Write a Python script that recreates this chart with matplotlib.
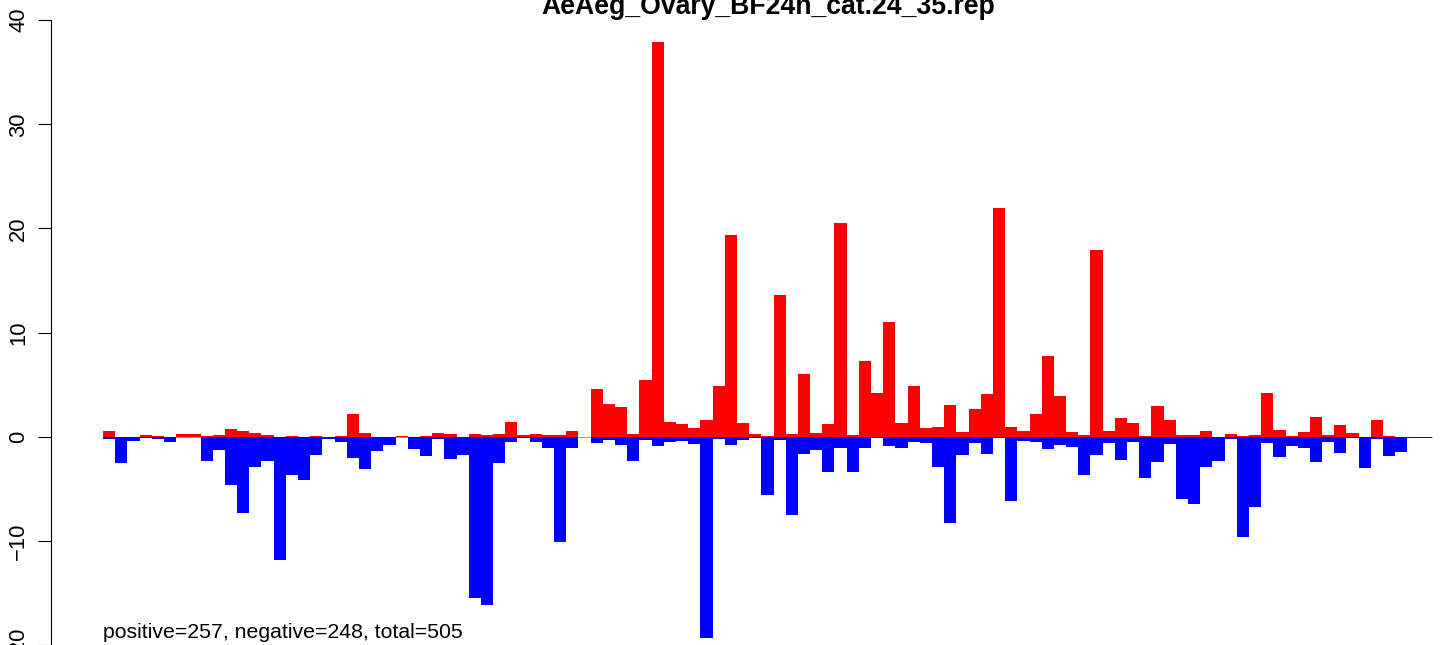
import numpy as np
import matplotlib.pyplot as plt

plt.rcParams['font.family'] = ['Liberation Sans', 'DejaVu Sans']

title = "AeAeg_Ovary_BF24h_cat.24_35.rep"
note = "positive=257, negative=248, total=505"

# bar heights, one value per bin (left to right)
pos = [0.5, 0.0, 0.0, 0.13, 0.05, 0.0, 0.22, 0.22, 0.03, 0.13,
       0.7, 0.5, 0.4, 0.13, 0.0, 0.03, 0.0, 0.03, 0.0, 0.03,
       2.15, 0.4, 0.0, 0.0, 0.05, 0.0, 0.03, 0.4, 0.22, 0.0,
       0.22, 0.13, 0.22, 1.37, 0.13, 0.22, 0.13, 0.13, 0.5, 0.0,
       4.6, 3.1, 2.85, 0.25, 5.43, 37.9, 1.4, 1.21, 0.83, 1.6,
       4.85, 19.4, 1.31, 0.26, 0.05, 13.57, 0.26, 6.0, 0.35, 1.21,
       20.56, 0.16, 7.25, 4.18, 10.98, 1.31, 4.9, 0.83, 0.93, 3.0,
       0.42, 2.65, 4.09, 22.0, 0.93, 0.54, 2.17, 7.73, 3.9, 0.42,
       0.13, 17.97, 0.54, 1.76, 1.28, 0.03, 2.9, 1.6, 0.16, 0.16,
       0.54, 0.0, 0.26, 0.06, 0.16, 4.18, 0.64, 0.06, 0.45, 1.88,
       0.16, 1.12, 0.35, 0.0, 1.6, 0.06, 0.0, 0.0, 0.0]
neg = [0.25, 2.55, 0.45, 0.1, 0.25, 0.55, 0.05, 0.05, 2.35, 1.3,
       4.65, 7.3, 2.9, 2.35, 11.8, 3.7, 4.2, 1.8, 0.25, 0.55,
       2.05, 3.1, 1.4, 0.83, 0.05, 1.2, 1.85, 0.2, 2.15, 1.8,
       15.5, 16.2, 2.55, 0.55, 0.1, 0.55, 1.1, 10.1, 1.1, 0.03,
       0.65, 0.35, 0.8, 2.33, 0.3, 0.9, 0.5, 0.4, 0.7, 19.3,
       0.22, 0.8, 0.3, 0.13, 5.6, 0.3, 7.5, 1.66, 1.28, 3.38,
       1.09, 3.38, 1.09, 0.13, 0.9, 1.1, 0.5, 0.6, 2.9, 8.27,
       1.76, 0.6, 1.66, 0.13, 6.16, 0.45, 0.54, 1.18, 0.8, 1.0,
       3.67, 1.76, 0.6, 2.27, 0.54, 3.96, 2.46, 0.7, 5.97, 6.45,
       2.9, 2.33, 0.22, 9.6, 6.74, 0.6, 1.95, 0.9, 1.09, 2.43,
       0.5, 1.56, 0.13, 3.0, 0.22, 1.85, 1.47, 0.1, 0.1]

n = len(pos)
idx = np.arange(n)

fig = plt.figure(figsize=(14.44, 6.45), dpi=100)
ax = fig.add_axes([0, 0, 1, 1])

ax.plot([0, n], [0, 0], color='#8c8cff', lw=0.7, zorder=1)
ax.bar(idx, pos, width=1, align='edge', color='red', linewidth=0, zorder=2)
ax.bar(idx, -np.array(neg), width=1, align='edge', color='blue', linewidth=0, zorder=2)

ax.set_xlim(-8.45, 110.0)
ax.set_ylim(-19.86, 41.93)

for s in ['top', 'right', 'bottom']:
    ax.spines[s].set_visible(False)
ax.spines['left'].set_position(('data', -4.29))
ax.spines['left'].set_bounds(-20, 40)
ax.spines['left'].set_linewidth(0.8)
ax.set_xticks([])
ax.set_yticks([-20, -10, 0, 10, 20, 30, 40])
ax.set_yticklabels(['\u221220', '\u221210', '0', '10', '20', '30', '40'],
                   rotation=90, va='center')
ax.tick_params(axis='y', length=9.4, width=0.8, labelsize=15.8, pad=6)

ax.text(0, -19.28, note, fontsize=15.3, va='baseline', ha='left')
fig.text(768 / 1444, 1 - 13.5 / 645, title, ha='center', va='baseline',
         fontsize=19.2, fontweight='bold')

fig.savefig('out.png', dpi=100)
